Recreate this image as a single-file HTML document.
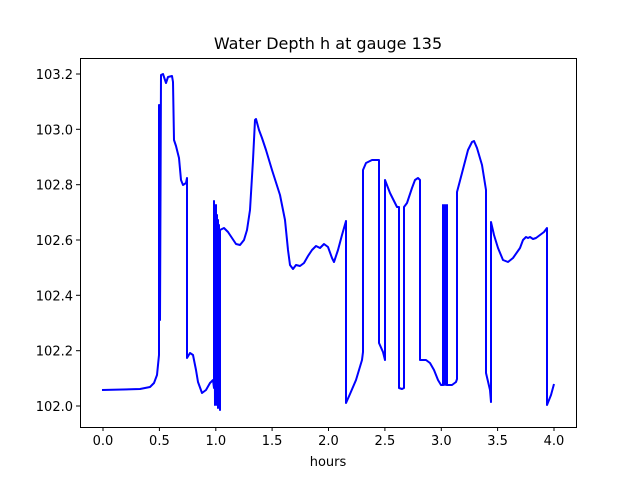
<!DOCTYPE html>
<html><head><style>body{margin:0;background:#fff}svg{display:block;font-family:"DejaVu Sans","Liberation Sans",sans-serif}</style></head><body>
<svg width="640" height="480" xmlns="http://www.w3.org/2000/svg">
<rect width="640" height="480" fill="#fff"/>
<text x="328" y="49" font-size="16" text-anchor="middle">Water Depth h at gauge 135</text>
<polyline fill="none" stroke="#0000ff" stroke-width="2" stroke-linejoin="round" points="102,390 140,389 150,387 154,383 157,375 159,355 159,105 159,287 160,105 160,270 160,320 161,75 163,74 166,83 168,77 172,76 173,82 174,140 176,146 179,158 181,180 183,185 186,183 187,178 187,358 190,353 193,355 196,370 198,382 202,393 206,390 210,383 213,380 214,388 214,201 215,405 216,205 216,400 217,215 217,405 218,220 218,408 219,225 219,405 220,230 220,410 220,230 224,228 228,232 232,238 236,244 240,245 244,240 247,230 250,210 253,160 255,120 256,119 259,130 262,138 266,150 272,170 280,195 285,220 288,250 290,265 293,269 296,265 300,266 304,263 308,256 312,250 316,246 320,248 324,244 328,247 332,258 334,262 338,250 342,235 346,221 346,403 350,394 356,380 362,360 363,352 363,170 366,163 372,160 378,160 379,160 379,343 383,352 385,360 385,180 390,193 395,203 397,207 399,207 399,388 402,389 404,388 404,207 407,203 412,188 415,180 418,178 420,180 420,360 426,360 430,363 434,370 438,380 441,385 443,385 443,205 444,385 445,205 446,385 447,205 447,385 452,385 456,382 457,379 457,192 462,173 468,150 472,142 474,141 477,148 482,165 486,190 486,373 490,390 491,402 491,222 494,235 498,248 503,260 508,262 513,258 520,248 523,240 526,237 528,238 530,237 533,239 536,238 540,235 544,232 547,228 547,405 551,395 554,384"/>
<rect x="80.5" y="58.5" width="496" height="369" fill="none" stroke="#000" stroke-width="1"/>
<g stroke="#000" stroke-width="1">
<line x1="103" y1="427" x2="103" y2="431"/><line x1="159.4" y1="427" x2="159.4" y2="431"/><line x1="215.8" y1="427" x2="215.8" y2="431"/><line x1="272.1" y1="427" x2="272.1" y2="431"/><line x1="328.5" y1="427" x2="328.5" y2="431"/><line x1="384.9" y1="427" x2="384.9" y2="431"/><line x1="441.3" y1="427" x2="441.3" y2="431"/><line x1="497.6" y1="427" x2="497.6" y2="431"/><line x1="554" y1="427" x2="554" y2="431"/>
<line x1="76" y1="406" x2="80" y2="406"/><line x1="76" y1="350.7" x2="80" y2="350.7"/><line x1="76" y1="295.3" x2="80" y2="295.3"/><line x1="76" y1="240" x2="80" y2="240"/><line x1="76" y1="184.7" x2="80" y2="184.7"/><line x1="76" y1="129.3" x2="80" y2="129.3"/><line x1="76" y1="74" x2="80" y2="74"/>
</g>
<g font-size="13" text-anchor="middle">
<text x="103" y="445">0.0</text><text x="159.4" y="445">0.5</text><text x="215.8" y="445">1.0</text><text x="272.1" y="445">1.5</text><text x="328.5" y="445">2.0</text><text x="384.9" y="445">2.5</text><text x="441.3" y="445">3.0</text><text x="497.6" y="445">3.5</text><text x="554" y="445">4.0</text>
<text x="328" y="466">hours</text>
</g>
<g font-size="13" text-anchor="end">
<text x="73" y="411">102.0</text><text x="73" y="355.7">102.2</text><text x="73" y="300.3">102.4</text><text x="73" y="245">102.6</text><text x="73" y="189.7">102.8</text><text x="73" y="134.3">103.0</text><text x="73" y="79">103.2</text>
</g>
</svg>
</body></html>
